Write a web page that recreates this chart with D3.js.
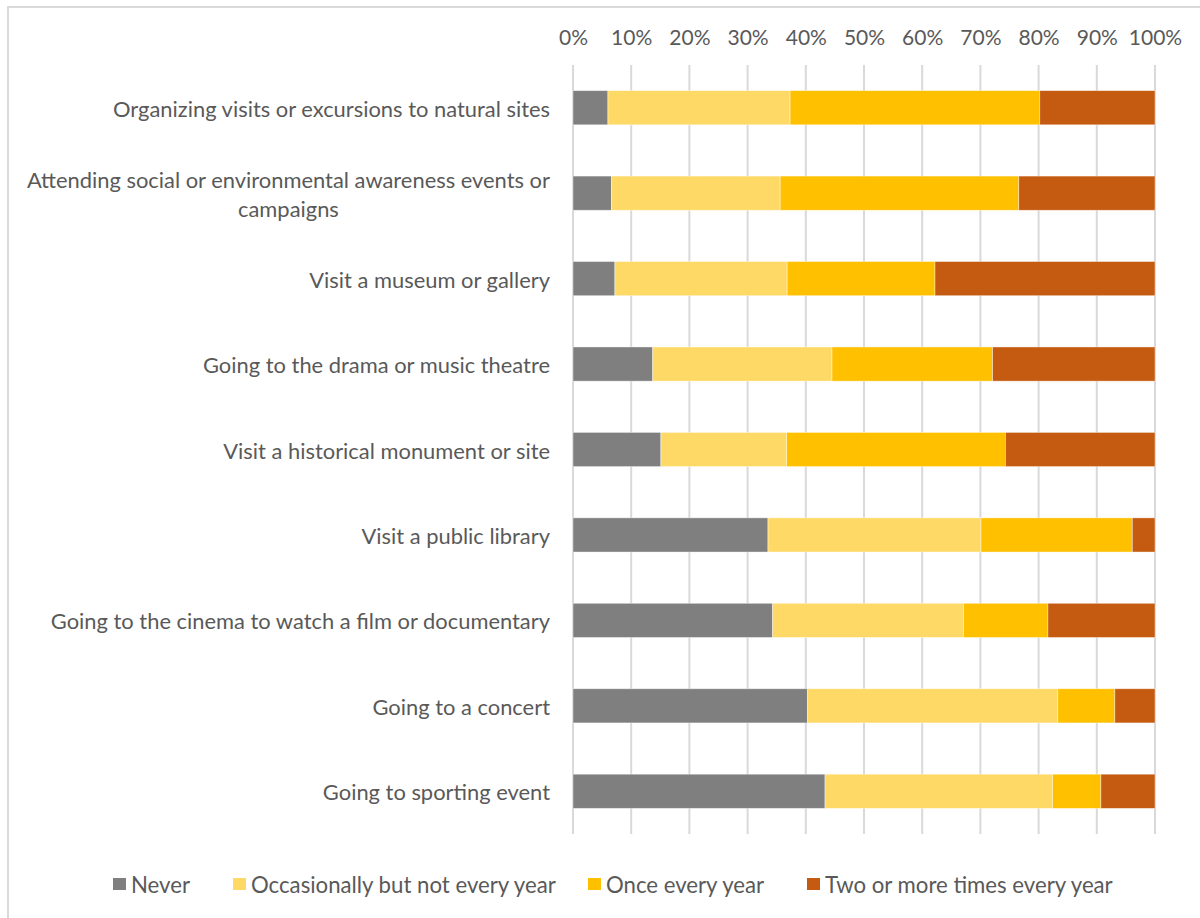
<!DOCTYPE html>
<html>
<head>
<meta charset="utf-8">
<script src="https://cdn.jsdelivr.net/npm/d3@7"></script>
<style>
  html, body { margin: 0; padding: 0; background: #fff; }
  svg { display: block; }
  text { font-family: Lato, "Open Sans", sans-serif; fill: #595959; }
</style>
</head>
<body>
<svg id="chart" width="1200" height="918"></svg>
<script>
// Activities, top to bottom
const categories = [
  "Organizing visits or excursions to natural sites",
  "Attending social or environmental awareness events or campaigns",
  "Visit a museum or gallery",
  "Going to the drama or music theatre",
  "Visit a historical monument or site",
  "Visit a public library",
  "Going to the cinema to watch a film or documentary",
  "Going to a concert",
  "Going to sporting event"
];

// Share of respondents (%) per frequency
const never        = [6.0, 6.6, 7.2, 13.7, 15.1, 33.5, 34.3, 40.3, 43.3];
const occasionally = [31.3, 29.0, 29.6, 30.8, 21.6, 36.6, 32.8, 43.0, 39.1];
const onceYear     = [42.9, 41.0, 25.4, 27.6, 37.6, 26.0, 14.5, 9.8, 8.3];
const twoOrMore    = [19.8, 23.4, 37.8, 27.9, 25.7, 3.9, 18.4, 6.9, 9.3];

const seriesNames = ["Never", "Occasionally but not every year", "Once every year", "Two or more times every year"];
const seriesColors = ["#7f7f7f", "#ffd966", "#ffc000", "#c55a11"];
const tickValues = [0, 10, 20, 30, 40, 50, 60, 70, 80, 90, 100];

const rows = categories.map((c, i) => ({
  cat: c,
  "Never": never[i],
  "Occasionally but not every year": occasionally[i],
  "Once every year": onceYear[i],
  "Two or more times every year": twoOrMore[i]
}));

const svg = d3.select("#chart");

// chart frame
svg.append("path")
  .attr("d", "M8,920 V7 H1202")
  .attr("fill", "none")
  .attr("stroke", "#d9d9d9")
  .attr("stroke-width", 2);

const plot = { left: 573, right: 1155, top: 65, bottom: 834 };

const x = d3.scaleLinear().domain([0, 100]).range([plot.left, plot.right]);
const y = d3.scaleBand().domain(categories).range([plot.top, plot.bottom]).paddingInner(0.6).paddingOuter(0.3);

// vertical gridlines
svg.append("g")
  .selectAll("line")
  .data(tickValues)
  .join("line")
  .attr("x1", d => x(d)).attr("x2", d => x(d))
  .attr("y1", plot.top).attr("y2", plot.bottom)
  .attr("stroke", "#d9d9d9")
  .attr("stroke-width", 2);

// top axis labels
const xAxis = d3.axisTop(x).tickValues(tickValues).tickFormat(d => d + "%").tickSize(0).tickPadding(0);
const gx = svg.append("g").attr("transform", `translate(0,45)`).call(xAxis);
gx.select(".domain").remove();
gx.selectAll("text").attr("font-size", 21).attr("font-family", "Lato, sans-serif").attr("fill", "#595959");

// stacked bars
const stack = d3.stack().keys(seriesNames);
const stacked = stack(rows);
const color = d3.scaleOrdinal().domain(seriesNames).range(seriesColors);

svg.append("g")
  .selectAll("g")
  .data(stacked)
  .join("g")
  .attr("fill", d => color(d.key))
  .selectAll("rect")
  .data(d => d)
  .join("rect")
  .attr("x", d => x(d[0]))
  .attr("width", d => x(d[1]) - x(d[0]))
  .attr("y", d => y(d.data.cat))
  .attr("height", y.bandwidth())
  .attr("stroke", "#ffffff")
  .attr("stroke-opacity", 0.5)
  .attr("stroke-width", 0.8);

// category labels (wrapped where needed)
const wrapLines = {
  "Attending social or environmental awareness events or campaigns":
    ["Attending social or environmental awareness events or", "campaigns"]
};
const labelRight = 550;
const lineGap = 29;
const labels = svg.append("g");
categories.forEach(c => {
  const lines = wrapLines[c] || [c];
  const cy = y(c) + y.bandwidth() / 2;
  const t = labels.append("text")
    .attr("font-size", 21.9)
    .attr("dominant-baseline", "central");
  lines.forEach((ln, k) => {
    t.append("tspan").text(ln)
      .attr("y", cy + (k - (lines.length - 1) / 2) * lineGap);
  });
  // right-align the block, centre each line within it
  const widths = t.selectAll("tspan").nodes().map(n => n.getComputedTextLength());
  const maxW = d3.max(widths);
  t.attr("text-anchor", "middle");
  t.selectAll("tspan").attr("x", labelRight - maxW / 2);
});

// legend
const legendItems = [
  { key: seriesNames[0], x: 113 },
  { key: seriesNames[1], x: 233 },
  { key: seriesNames[2], x: 588 },
  { key: seriesNames[3], x: 807 }
];
const lg = svg.append("g").attr("transform", "translate(0,884)");
const li = lg.selectAll("g").data(legendItems).join("g")
  .attr("transform", d => `translate(${d.x},0)`);
li.append("rect").attr("x", 0).attr("y", -6).attr("width", 13).attr("height", 12)
  .attr("fill", d => color(d.key));
li.append("text").attr("x", 18).attr("y", 0).attr("dominant-baseline", "central")
  .attr("font-size", 22.2).text(d => d.key);
</script>
</body>
</html>
